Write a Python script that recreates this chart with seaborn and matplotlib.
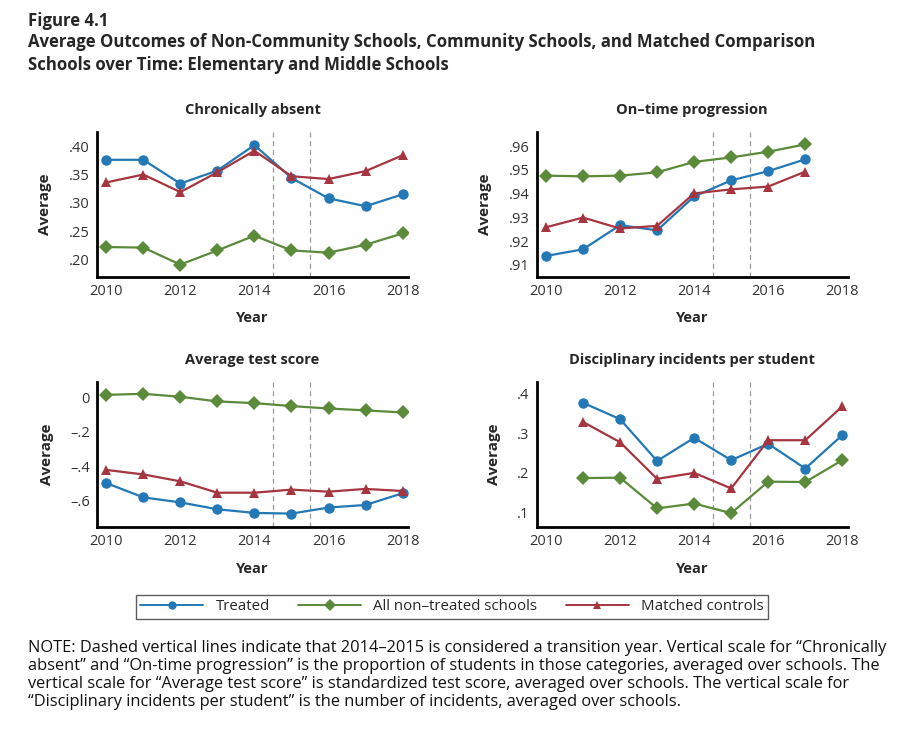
import numpy as np
import pandas as pd
import matplotlib
matplotlib.use("Agg")
import matplotlib.pyplot as plt
from matplotlib.ticker import FuncFormatter
import seaborn as sns

# ---------------------------
# Data
# ---------------------------
groups = ["Treated", "All non\u2013treated schools", "Matched controls"]
colors = ["#2378b5", "#5a8a3a", "#a5363f"]
markers = ["o", "D", "^"]

years = [2010, 2011, 2012, 2013, 2014, 2015, 2016, 2017, 2018]
years_ontime = [2010, 2011, 2012, 2013, 2014, 2015, 2016, 2017]
years_disc = [2011, 2012, 2013, 2014, 2015, 2016, 2017, 2018]

absent_treated = [0.376, 0.376, 0.334, 0.357, 0.402, 0.344, 0.308, 0.294, 0.315]
absent_nontreated = [0.222, 0.221, 0.191, 0.216, 0.242, 0.216, 0.212, 0.226, 0.246]
absent_matched = [0.336, 0.350, 0.319, 0.354, 0.392, 0.347, 0.342, 0.356, 0.384]

ontime_treated = [0.9137, 0.9165, 0.9267, 0.9245, 0.9388, 0.9456, 0.9495, 0.9545]
ontime_nontreated = [0.9476, 0.9473, 0.9476, 0.9490, 0.9534, 0.9553, 0.9577, 0.9608]
ontime_matched = [0.9258, 0.9299, 0.9253, 0.9264, 0.9401, 0.9418, 0.9430, 0.9493]

test_treated = [-0.498, -0.581, -0.610, -0.650, -0.671, -0.675, -0.640, -0.625, -0.557]
test_nontreated = [0.013, 0.019, 0.002, -0.025, -0.035, -0.052, -0.066, -0.077, -0.089]
test_matched = [-0.422, -0.448, -0.488, -0.554, -0.554, -0.536, -0.548, -0.532, -0.544]

disc_treated = [0.376, 0.335, 0.230, 0.288, 0.232, 0.273, 0.211, 0.295]
disc_nontreated = [0.187, 0.188, 0.111, 0.123, 0.099, 0.178, 0.177, 0.232]
disc_matched = [0.328, 0.277, 0.185, 0.200, 0.161, 0.282, 0.282, 0.367]

panels = [
    ("Chronically absent", years, [absent_treated, absent_nontreated, absent_matched],
     (0.169, 0.425), [0.20, 0.25, 0.30, 0.35, 0.40], 2),
    ("On\u2013time progression", years_ontime, [ontime_treated, ontime_nontreated, ontime_matched],
     (0.9048, 0.966), [0.91, 0.92, 0.93, 0.94, 0.95, 0.96], 2),
    ("Average test score", years, [test_treated, test_nontreated, test_matched],
     (-0.753, 0.087), [-0.6, -0.4, -0.2, 0.0], 1),
    ("Disciplinary incidents per student", years_disc, [disc_treated, disc_nontreated, disc_matched],
     (0.064, 0.428), [0.1, 0.2, 0.3, 0.4], 1),
]


def fmt_factory(digits):
    def fmt(v, pos):
        if abs(v) < 1e-9:
            return "0"
        s = f"{abs(v):.{digits}f}".lstrip("0")
        return ("\u2013" if v < 0 else "") + s
    return fmt


sns.set_style("white")
plt.rcParams["font.family"] = ["Open Sans", "DejaVu Sans"]

fig = plt.figure(figsize=(9.02, 7.3), dpi=100)

positions = [
    [0.1075, 0.6205, 0.345, 0.1986],
    [0.595, 0.6205, 0.345, 0.1986],
    [0.1075, 0.278, 0.345, 0.1986],
    [0.595, 0.278, 0.345, 0.1986],
]

for (title, yrs, series, ylim, yticks, digits), pos in zip(panels, positions):
    ax = fig.add_axes(pos)
    df = pd.DataFrame({
        "Year": np.tile(yrs, len(groups)),
        "value": np.concatenate(series),
        "group": np.repeat(groups, len(yrs)),
    })
    sns.lineplot(data=df, x="Year", y="value", hue="group", style="group",
                 hue_order=groups, style_order=groups,
                 palette=colors, markers=markers, dashes=False,
                 markersize=7.5, markeredgewidth=0, linewidth=1.6,
                 legend=False, ax=ax)
    for xv in [2014.5, 2015.5]:
        ax.axvline(xv, color="#999999", linestyle=(0, (4, 3)), linewidth=0.9, zorder=0)
    ax.set_xlim(2009.75, 2018.15)
    ax.set_ylim(*ylim)
    ax.set_xticks([2010, 2011, 2012, 2013, 2014, 2015, 2016, 2017, 2018])
    ax.set_xticklabels(["2010", "", "2012", "", "2014", "", "2016", "", "2018"])
    ax.set_yticks(yticks)
    ax.yaxis.set_major_formatter(FuncFormatter(fmt_factory(digits)))
    ax.set_title(title, fontsize=10.5, fontweight="bold", pad=13)
    ax.set_xlabel("Year", fontsize=10.5, fontweight="bold", labelpad=9)
    ax.set_ylabel("Average", fontsize=11, fontweight="bold", labelpad=12)
    ax.tick_params(axis="both", direction="in", length=5, width=1.2,
                   labelsize=10.5, labelcolor="#333333", color="#333333", pad=5)
    sns.despine(ax=ax)
    for sp in ["left", "bottom"]:
        ax.spines[sp].set_color("black")
        ax.spines[sp].set_linewidth(2.0)

# Legend
handles = [plt.Line2D([], [], color=c, marker=m, markersize=6, linewidth=1.4, markeredgewidth=0)
           for c, m in zip(colors, markers)]
leg = fig.legend(handles, groups, loc="center", bbox_to_anchor=(0.501, 0.1685),
                 ncol=3, frameon=True, fancybox=False, fontsize=10.8,
                 handlelength=4.2, columnspacing=1.9, borderpad=0.3, handletextpad=0.8)
leg.get_frame().set_edgecolor("#333333")
leg.get_frame().set_linewidth(1.0)

# Titles
fig.text(0.031, 0.984, "Figure 4.1", fontsize=12.1, fontweight="bold", va="top")
fig.text(0.031, 0.955, "Average Outcomes of Non-Community Schools, Community Schools, and Matched Comparison\n"
         "Schools over Time: Elementary and Middle Schools",
         fontsize=12.1, fontweight="bold", va="top", linespacing=1.35)

note = ("NOTE: Dashed vertical lines indicate that 2014\u20132015 is considered a transition year. Vertical scale for \u201cChronically\n"
        "absent\u201d and \u201cOn-time progression\u201d is the proportion of students in those categories, averaged over schools. The\n"
        "vertical scale for \u201cAverage test score\u201d is standardized test score, averaged over schools. The vertical scale for\n"
        "\u201cDisciplinary incidents per student\u201d is the number of incidents, averaged over schools.")
fig.text(0.031, 0.123, note, fontsize=11.8, va="top", linespacing=1.17, color="#111111")

fig.savefig("out.png", dpi=100)
